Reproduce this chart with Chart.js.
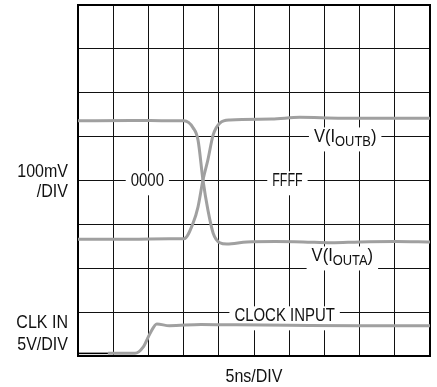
<!DOCTYPE html>
<html><head><meta charset="utf-8">
<script src="https://cdn.jsdelivr.net/npm/chart.js@4.4.0/dist/chart.umd.min.js"></script>
<style>html,body{margin:0;padding:0;background:#fff}#wrap{width:437px;height:387px}</style>
</head><body><div id="wrap"><canvas id="c" width="437" height="387"></canvas></div>
<script>
// Time axis in divisions (5ns/DIV), vertical in divisions
const outAx = [0, 1.5, 2.6, 3.01, 3.27, 3.41, 3.55, 3.69, 3.84, 4.03, 4.23, 4.8, 5.6, 6.4, 7.2, 8.0, 9.0, 10];
const outAy = [5.36, 5.37, 5.36, 5.36, 5.2, 4.92, 4.01, 3.33, 2.8, 2.58, 2.55, 2.6, 2.61, 2.6, 2.58, 2.6, 2.61, 2.6];
const outBx = [0, 1.5, 2.6, 3.01, 3.27, 3.41, 3.55, 3.69, 3.84, 4.03, 4.32, 5.5, 6.3, 7.5, 8.5, 10];
const outBy = [2.66, 2.66, 2.67, 2.67, 3.03, 3.4, 4.01, 4.47, 5.04, 5.31, 5.38, 5.40, 5.44, 5.42, 5.42, 5.42];
const clkX = [0.85, 1.62, 1.85, 2.05, 2.24, 2.6, 3.5, 4.5, 6, 8, 10];
const clkY = [0.06, 0.06, 0.2, 0.52, 0.73, 0.69, 0.72, 0.71, 0.7, 0.69, 0.69];
const clkStubX = [0, 0.85];
const clkStubY = [0.06, 0.06];

// In-plot labels: text, subscript, centre x (div), grid line y (div), baseline offset (px)
const labelText = ['0000', 'FFFF', 'V(I', 'V(I', 'CLOCK INPUT'];
const labelSub  = ['', '', 'OUTB', 'OUTA', ''];
const labelX    = [1.97, 5.95, 7.59, 7.51, 5.87];
const labelY    = [4, 4, 5, 2, 1];
const labelDy   = [5.8, 5.8, 5.8, -6.8, 9.2];

// Outer texts
const sideTexts = ['100mV', '/DIV', 'CLK IN', '5V/DIV'];
const xTitle = '5ns/DIV';

const zip = (xs, ys) => xs.map((x, i) => ({x, y: ys[i]}));
const FONT = '"Liberation Sans", Arial, sans-serif';

function drawScaled(ctx, text, x, y, size, sx, align) {
  ctx.save();
  ctx.font = size + 'px ' + FONT;
  const w = ctx.measureText(text).width * sx;
  let left = x;
  if (align === 'center') left = x - w / 2;
  else if (align === 'right') left = x - w;
  ctx.translate(left, y);
  ctx.scale(sx, 1);
  ctx.textAlign = 'left';
  ctx.fillText(text, 0, 0);
  ctx.restore();
  return w;
}
function measure(ctx, text, size, sx) {
  ctx.save(); ctx.font = size + 'px ' + FONT;
  const w = ctx.measureText(text).width * sx; ctx.restore(); return w;
}

const MAIN = 18, SUB = 14;
function labelLayout(ctx, i) {
  const sx = labelSub[i] ? 0.92 : (labelText[i] === 'FFFF' ? 0.69 : 0.83);
  let w = measure(ctx, labelText[i], MAIN, sx);
  if (labelSub[i]) w += measure(ctx, labelSub[i], SUB, sx) + measure(ctx, ')', MAIN, sx);
  return {sx, w};
}

const plugin = {
  id: 'scopeText',
  beforeDatasetsDraw(chart) {
    const ctx = chart.ctx, xs = chart.scales.x, ys = chart.scales.y;
    ctx.save();
    ctx.fillStyle = '#fff';
    for (let i = 0; i < labelText.length; i++) {
      const {w} = labelLayout(ctx, i);
      const cx = xs.getPixelForValue(labelX[i]);
      const base = ys.getPixelForValue(labelY[i]) + labelDy[i];
      ctx.fillRect(cx - w / 2 - 5, base - 15, w + 10, 24);
    }
    // frame
    const a = chart.chartArea;
    ctx.strokeStyle = '#000'; ctx.lineWidth = 2;
    ctx.strokeRect(a.left, a.top, a.right - a.left, a.bottom - a.top);
    ctx.restore();
  },
  afterDatasetsDraw(chart) {
    const ctx = chart.ctx, xs = chart.scales.x, ys = chart.scales.y;
    ctx.save();
    ctx.fillStyle = '#111';
    ctx.textBaseline = 'alphabetic';
    for (let i = 0; i < labelText.length; i++) {
      const {sx, w} = labelLayout(ctx, i);
      const cx = xs.getPixelForValue(labelX[i]);
      const base = ys.getPixelForValue(labelY[i]) + labelDy[i];
      let x = cx - w / 2;
      x += drawScaled(ctx, labelText[i], x, base, MAIN, sx, 'left');
      if (labelSub[i]) {
        x += drawScaled(ctx, labelSub[i], x, base + 3.5, SUB, sx, 'left');
        drawScaled(ctx, ')', x, base, MAIN, sx, 'left');
      }
    }
    // outer texts
    ctx.textBaseline = 'middle';
    drawScaled(ctx, sideTexts[0], 68, 172, 18, 0.89, 'right');
    drawScaled(ctx, sideTexts[1], 68, 192, 18, 0.89, 'right');
    drawScaled(ctx, sideTexts[2], 68, 323, 18, 0.89, 'right');
    drawScaled(ctx, sideTexts[3], 68, 345, 18, 0.89, 'right');
    const a = chart.chartArea;
    drawScaled(ctx, xTitle, (a.left + a.right) / 2, 377, 18, 0.89, 'center');
    ctx.restore();
  }
};

const traceStyle = {borderColor: '#a0a0a0', borderWidth: 3, pointRadius: 0, fill: false, cubicInterpolationMode: 'monotone'};

new Chart(document.getElementById('c'), {
  type: 'line',
  data: {
    datasets: [
      Object.assign({data: zip(outBx, outBy)}, traceStyle),
      Object.assign({data: zip(outAx, outAy)}, traceStyle),
      Object.assign({data: zip(clkX, clkY)}, traceStyle),
      {data: zip(clkStubX, clkStubY), borderColor: '#000', borderWidth: 1.5, pointRadius: 0}
    ]
  },
  options: {
    responsive: false,
    animation: false,
    layout: {padding: {left: 78, right: 7, top: 5, bottom: 31}},
    plugins: {legend: {display: false}, tooltip: {enabled: false}},
    scales: {
      x: {type: 'linear', min: 0, max: 10,
          ticks: {display: false, stepSize: 1},
          grid: {color: '#111', lineWidth: 1, drawTicks: false},
          border: {display: false}},
      y: {type: 'linear', min: 0, max: 8,
          ticks: {display: false, stepSize: 1},
          grid: {color: '#111', lineWidth: 1, drawTicks: false},
          border: {display: false}}
    }
  },
  plugins: [plugin]
});
</script></body></html>
